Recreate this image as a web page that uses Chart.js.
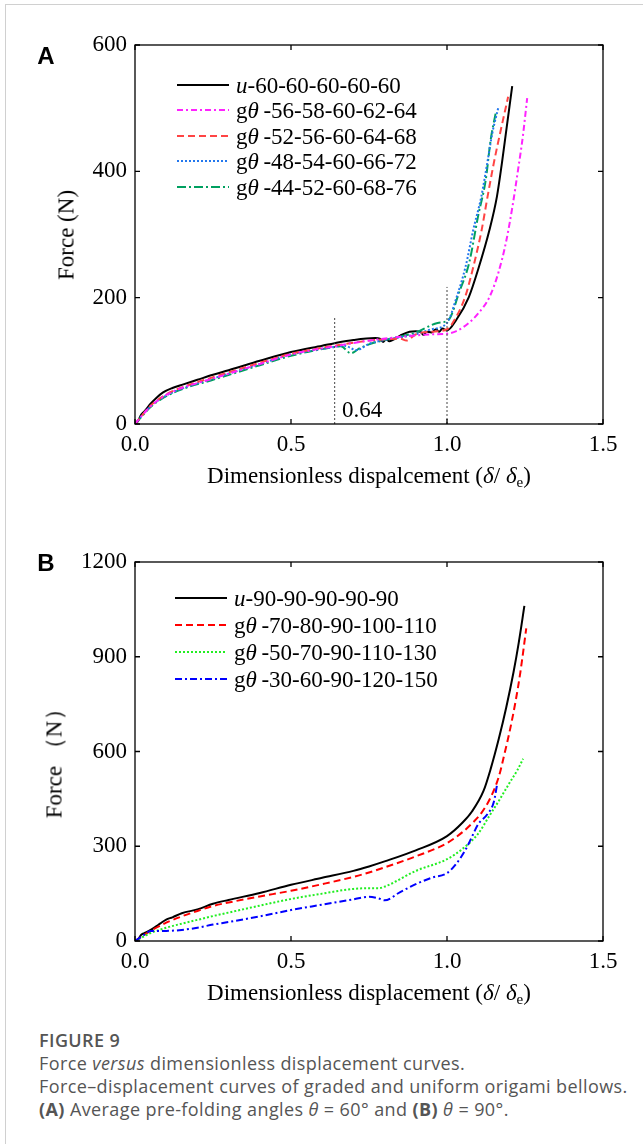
<!DOCTYPE html>
<html>
<head>
<meta charset="utf-8">
<script src="https://cdn.jsdelivr.net/npm/chart.js@4/dist/chart.umd.min.js"></script>
<style>
  html, body { margin:0; padding:0; background:#fff; }
  body { width:643px; height:1144px; position:relative; overflow:hidden; }
  .frameL { position:absolute; left:5px; top:4px; width:1px; height:1140px; background:#d0d0d0; }
  .frameT { position:absolute; left:5px; top:4px; width:638px; height:1px; background:#d0d0d0; }
  .cv { position:absolute; left:0px; }
  .serif { font-family:"Liberation Serif","Times New Roman",serif; color:#000; }
  .panel { position:absolute; font-family:"Liberation Sans",Arial,sans-serif; font-weight:bold; font-size:24px; line-height:24px; transform:translate(-50%,-50%); }
  .xt { position:absolute; font-size:23px; line-height:23px; white-space:nowrap; transform:translate(-50%,-50%); }
  .yt { position:absolute; font-size:23px; line-height:23px; white-space:nowrap; transform:translate(-50%,-50%) rotate(-90deg); }
  .xt sub { font-size:15px; vertical-align:-4px; line-height:0; }
  .leg { position:absolute; font-size:23px; line-height:23px; }
  .row { position:absolute; left:0; white-space:nowrap; height:23px; }
  .row svg { position:absolute; left:0; top:6px; }
  .row span { position:absolute; left:59px; top:0; }
  .note { position:absolute; font-size:23px; line-height:23px; transform:translate(0,-50%); }
  .cap { position:absolute; left:39px; top:1029px; font-family:"Open Sans","Noto Sans",sans-serif; color:#555; font-size:18px; letter-spacing:0.4px; line-height:23px; white-space:nowrap; }
  .cap .h { font-weight:600; }
</style>
</head>
<body>
<div class="frameL"></div><div class="frameT"></div>

<canvas id="cA" class="cv" style="top:0px" width="643" height="510"></canvas>
<canvas id="cB" class="cv" style="top:517px" width="643" height="510"></canvas>

<div class="panel" style="left:46px;top:56px">A</div>
<div class="panel" style="left:46px;top:563px">B</div>

<div class="xt serif" style="left:369px;top:475px">Dimensionless dispalcement (<i>δ</i>/ <i>δ</i><sub>e</sub>)</div>
<div class="xt serif" style="left:369px;top:992px">Dimensionless displacement (<i>δ</i>/ <i>δ</i><sub>e</sub>)</div>
<div class="yt serif" style="left:66px;top:235px">Force (N)</div>
<div class="yt serif" style="left:54px;top:758px">Force （N）</div>
<div class="note serif" style="left:342px;top:409px">0.64</div>

<div id="legA" class="leg serif" style="left:177px;top:74px"></div>
<div id="legB" class="leg serif" style="left:175px;top:587px"></div>

<div class="cap">
  <div class="h">FIGURE 9</div>
  <div>Force <i>versus</i> dimensionless displacement curves.</div>
  <div>Force–displacement curves of graded and uniform origami bellows.</div>
  <div><b>(A)</b> Average pre-folding angles <i>θ</i> = 60° and <b>(B)</b> <i>θ</i> = 90°.</div>
</div>

<script>
// ---------------- Panel A data ----------------
const aLabels = ['<i>u</i>-60-60-60-60-60', 'g<i>θ</i>&#8201;-56-58-60-62-64', 'g<i>θ</i>&#8201;-52-56-60-64-68', 'g<i>θ</i>&#8201;-48-54-60-66-72', 'g<i>θ</i>&#8201;-44-52-60-68-76'];

const aU60x = [0, 0.01, 0.02, 0.03, 0.05, 0.07, 0.09, 0.12, 0.15, 0.2, 0.25, 0.3, 0.4, 0.5, 0.6, 0.64, 0.7, 0.77, 0.785, 0.795, 0.805, 0.815, 0.85, 0.88, 0.9, 0.915, 0.925, 0.935, 0.95, 0.965, 0.975, 0.985, 1.0, 1.03, 1.07, 1.1, 1.136, 1.16, 1.176, 1.19, 1.209];
const aU60y = [0, 5, 15, 20, 32, 42, 50, 57, 62, 70, 78, 85, 100, 114, 124, 128, 133, 136, 135, 130, 134, 131, 140, 146, 147, 146, 141, 146, 145, 150, 146, 151, 148, 165, 201, 245, 307, 360, 413, 465, 535];

const aG56x = [0, 0.02, 0.05, 0.1, 0.15, 0.25, 0.4, 0.5, 0.64, 0.75, 0.85, 0.95, 1.0, 1.03, 1.07, 1.1, 1.136, 1.165, 1.19, 1.21, 1.227, 1.243, 1.257];
const aG56y = [0, 12, 28, 46, 57, 72, 95, 110, 123, 132, 138, 142, 143, 147, 160, 175, 201, 240, 290, 345, 400, 455, 516];

const aG52x = [0, 0.02, 0.05, 0.1, 0.15, 0.25, 0.4, 0.5, 0.64, 0.75, 0.8, 0.85, 0.87, 0.9, 0.95, 1.0, 1.03, 1.058, 1.085, 1.111, 1.13, 1.15, 1.17, 1.196];
const aG52y = [0, 12, 29, 47, 58, 74, 97, 111, 124, 132, 134, 135, 132, 142, 146, 150, 170, 201, 250, 307, 360, 413, 460, 518];

const aG48x = [0, 0.02, 0.05, 0.1, 0.15, 0.25, 0.4, 0.5, 0.64, 0.67, 0.711, 0.75, 0.8, 0.9, 0.95, 1.0, 1.031, 1.06, 1.084, 1.11, 1.129, 1.145, 1.165];
const aG48y = [0, 12, 28, 45, 56, 72, 95, 110, 122, 124, 117, 127, 133, 142, 150, 160, 201, 250, 307, 360, 413, 460, 502];

const aG44x = [0, 0.02, 0.05, 0.1, 0.15, 0.25, 0.4, 0.5, 0.64, 0.66, 0.692, 0.72, 0.75, 0.8, 0.9, 0.97, 1.005, 1.04, 1.071, 1.1, 1.124, 1.14, 1.156];
const aG44y = [0, 11, 27, 44, 55, 70, 93, 108, 122, 123, 112, 120, 126, 133, 145, 160, 165, 210, 255, 330, 386, 450, 492];

const aRefX = [0.64, 1.0];
const aRefTop = [168, 217];

const aXTicks = [0, 0.5, 1.0, 1.5];
const aYTicks = [0, 200, 400, 600];

// ---------------- Panel B data ----------------
const bLabels = ['<i>u</i>-90-90-90-90-90', 'g<i>θ</i>&#8201;-70-80-90-100-110', 'g<i>θ</i>&#8201;-50-70-90-110-130', 'g<i>θ</i>&#8201;-30-60-90-120-150'];

const bU90x = [0, 0.01, 0.02, 0.03, 0.05, 0.07, 0.08, 0.1, 0.12, 0.15, 0.2, 0.25, 0.3, 0.4, 0.5, 0.6, 0.7, 0.75, 0.8, 0.9, 1.0, 1.05, 1.08, 1.117, 1.14, 1.166, 1.19, 1.213, 1.23, 1.248];
const bU90y = [0, 5, 20, 25, 35, 48, 55, 68, 75, 88, 100, 118, 130, 152, 178, 200, 222, 236, 252, 287, 332, 375, 410, 475, 545, 640, 740, 850, 945, 1061];

const bG70x = [0, 0.05, 0.1, 0.15, 0.2, 0.25, 0.3, 0.4, 0.5, 0.6, 0.7, 0.75, 0.8, 0.9, 1.0, 1.05, 1.08, 1.11, 1.14, 1.166, 1.186, 1.2, 1.22, 1.235, 1.254];
const bG70y = [0, 32, 58, 78, 95, 111, 122, 141, 159, 180, 203, 217, 233, 268, 310, 345, 372, 405, 455, 520, 600, 660, 760, 850, 990];

const bG50x = [0, 0.05, 0.1, 0.15, 0.2, 0.25, 0.3, 0.4, 0.5, 0.6, 0.7, 0.75, 0.78, 0.8, 0.9, 1.0, 1.05, 1.1, 1.135, 1.17, 1.2, 1.225, 1.244];
const bG50y = [0, 25, 42, 55, 67, 79, 90, 112, 133, 150, 165, 167, 167, 172, 222, 259, 292, 340, 395, 450, 500, 540, 577];

const bG30x = [0, 0.03, 0.05, 0.1, 0.15, 0.2, 0.25, 0.3, 0.4, 0.5, 0.6, 0.7, 0.75, 0.78, 0.8, 0.85, 0.9, 0.95, 1.0, 1.03, 1.06, 1.08, 1.1, 1.13, 1.15, 1.16];
const bG30y = [0, 20, 32, 32, 35, 42, 52, 60, 78, 98, 115, 132, 140, 135, 129, 155, 180, 200, 215, 245, 290, 330, 370, 402, 440, 492];

const bXTicks = [0, 0.5, 1.0, 1.5];
const bYTicks = [0, 300, 600, 900, 1200];

// ---------------- helpers ----------------
function pts(xs, ys) { return xs.map((x, i) => ({x: x, y: ys[i]})); }

const stylesA = [
  {c:'#000000', d:[], w:2},
  {c:'#ff22ff', d:[6,3,2,3], w:2},
  {c:'#ff4444', d:[7,4], w:2},
  {c:'#2277ee', d:[2,2], w:2},
  {c:'#00a060', d:[9,3,2,3], w:2}
];
const stylesB = [
  {c:'#000000', d:[], w:2},
  {c:'#ff0000', d:[7,4], w:2},
  {c:'#22ee22', d:[2,2], w:2},
  {c:'#0000ff', d:[7,3,2,3], w:2}
];

function buildLegend(id, labels, styles, rowH) {
  const el = document.getElementById(id);
  labels.forEach((lab, i) => {
    const s = styles[i];
    const r = document.createElement('div');
    r.className = 'row';
    r.style.top = (i * rowH) + 'px';
    r.innerHTML = '<svg width="52" height="10"><line x1="0" y1="5" x2="52" y2="5" stroke="' + s.c +
      '" stroke-width="' + s.w + '" stroke-dasharray="' + (s.d.length ? s.d.join(',') : 'none') + '"/></svg><span>' + lab + '</span>';
    el.appendChild(r);
  });
}
buildLegend('legA', aLabels, stylesA, 25.4);
buildLegend('legB', bLabels, stylesB, 27);

const frameTicks = {
  id: 'frameTicks',
  afterDatasetsDraw(chart, args, opts) {
    const ctx = chart.ctx, a = chart.chartArea;
    const xs = chart.scales.x, ys = chart.scales.y;
    ctx.save();
    ctx.strokeStyle = '#000';
    ctx.lineWidth = 1.3;
    ctx.setLineDash([]);
    ctx.strokeRect(a.left, a.top, a.right - a.left, a.bottom - a.top);
    const L = 5;
    ctx.beginPath();
    opts.xt.forEach(v => {
      const p = xs.getPixelForValue(v);
      ctx.moveTo(p, a.bottom); ctx.lineTo(p, a.bottom - L);
      ctx.moveTo(p, a.top); ctx.lineTo(p, a.top + L);
    });
    opts.yt.forEach(v => {
      const p = ys.getPixelForValue(v);
      ctx.moveTo(a.left, p); ctx.lineTo(a.left + L, p);
      ctx.moveTo(a.right, p); ctx.lineTo(a.right - L, p);
    });
    ctx.stroke();
    ctx.restore();
  }
};

function makeChart(id, datasets, xt, yt, ymax) {
  const tickFont = {family: '"Liberation Serif","Times New Roman",serif', size: 23};
  return new Chart(document.getElementById(id), {
    type: 'line',
    data: {datasets: datasets},
    options: {
      responsive: false,
      animation: false,
      events: [],
      layout: {padding: {left: 0, top: 45, right: 40, bottom: 0}},
      plugins: {legend: {display: false}, tooltip: {enabled: false}, frameTicks: {xt: xt, yt: yt}},
      elements: {point: {radius: 0}, line: {cubicInterpolationMode: 'monotone', borderCapStyle: 'butt'}},
      scales: {
        x: {
          type: 'linear', min: 0, max: 1.5,
          afterFit(s) { s.height = 86; },
          afterBuildTicks(s) { s.ticks = xt.map(v => ({value: v})); },
          grid: {display: false, drawTicks: false},
          border: {display: false},
          ticks: {font: tickFont, color: '#000', padding: 7, maxRotation: 0, callback: v => v.toFixed(1)}
        },
        y: {
          type: 'linear', min: 0, max: ymax,
          afterFit(s) { s.width = 135; },
          afterBuildTicks(s) { s.ticks = yt.map(v => ({value: v})); },
          grid: {display: false, drawTicks: false},
          border: {display: false},
          ticks: {font: tickFont, color: '#000', padding: 8, callback: v => String(v)}
        }
      }
    },
    plugins: [frameTicks]
  });
}

function ds(xs, ys, s) {
  return {data: pts(xs, ys), borderColor: s.c, borderWidth: s.w, borderDash: s.d, fill: false, pointRadius: 0};
}

const dsA = [
  ds([aRefX[0], aRefX[0]], [0, aRefTop[0]], {c:'#444', d:[2,2], w:1}),
  ds([aRefX[1], aRefX[1]], [0, aRefTop[1]], {c:'#444', d:[2,2], w:1}),
  ds(aG56x, aG56y, stylesA[1]),
  ds(aG52x, aG52y, stylesA[2]),
  ds(aG48x, aG48y, stylesA[3]),
  ds(aG44x, aG44y, stylesA[4]),
  ds(aU60x, aU60y, stylesA[0])
];
dsA[0].cubicInterpolationMode = 'default'; dsA[1].cubicInterpolationMode = 'default';

const dsB = [
  ds(bG30x, bG30y, stylesB[3]),
  ds(bG50x, bG50y, stylesB[2]),
  ds(bG70x, bG70y, stylesB[1]),
  ds(bU90x, bU90y, stylesB[0])
];

makeChart('cA', dsA, aXTicks, aYTicks, 600);
makeChart('cB', dsB, bXTicks, bYTicks, 1200);
</script>
</body>
</html>
